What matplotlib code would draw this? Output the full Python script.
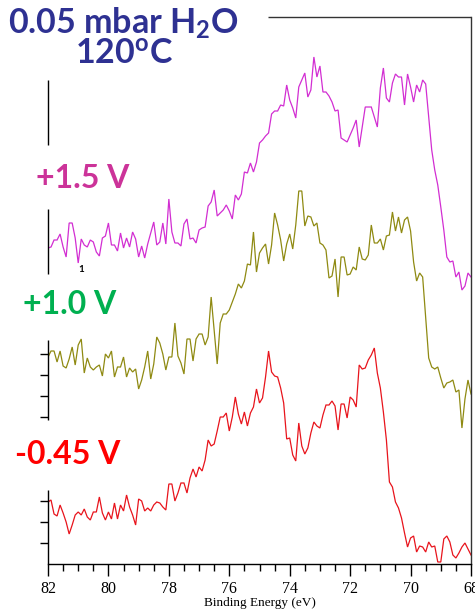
import numpy as np
import matplotlib
matplotlib.use("Agg")
import matplotlib.pyplot as plt

plt.rcParams["mathtext.fontset"] = "custom"
plt.rcParams["mathtext.rm"] = "Lato:bold"
plt.rcParams["mathtext.bf"] = "Lato:bold"
plt.rcParams["mathtext.it"] = "Lato:bold"

# Binding energy grid (eV), 0.1 eV steps from 82 down to 68
energy = np.round(np.linspace(82.0, 68.0, 141), 2)

# Offset intensities (arb. units) for each applied potential
counts_p15 = [
    316, 317, 324, 324, 330, 317, 307, 341, 341, 326,
    301, 325, 319, 317, 324, 322, 312, 308, 326, 328,
    341, 319, 319, 313, 331, 316, 326, 317, 332, 325,
    307, 318, 306, 320, 331, 342, 319, 322, 341, 320,
    365, 332, 321, 321, 318, 340, 345, 325, 326, 321,
    334, 336, 337, 358, 362, 374, 348, 351, 354, 359,
    353, 345, 369, 364, 370, 392, 391, 401, 392, 402,
    421, 424, 428, 431, 450, 453, 453, 459, 458, 479,
    464, 456, 446, 477, 484, 491, 467, 474, 507, 487,
    498, 472, 472, 468, 462, 453, 454, 426, 424, 422,
    429, 436, 444, 417, 437, 457, 457, 457, 447, 437,
    476, 496, 466, 462, 481, 490, 487, 487, 459, 490,
    477, 462, 479, 472, 484, 480, 447, 414, 394, 379,
    357, 334, 307, 302, 303, 287, 292, 274, 278, 291,
    287,
]
counts_p10 = [
    207, 213, 213, 202, 213, 198, 196, 205, 217, 199,
    219, 225, 191, 206, 197, 194, 197, 199, 188, 210,
    206, 213, 187, 197, 197, 207, 187, 196, 192, 195,
    175, 184, 197, 213, 185, 200, 227, 221, 210, 194,
    207, 207, 241, 208, 201, 190, 225, 225, 203, 225,
    230, 230, 219, 227, 267, 234, 200, 241, 250, 250,
    254, 262, 270, 280, 276, 283, 300, 299, 332, 292,
    311, 316, 320, 300, 319, 351, 339, 324, 303, 320,
    330, 315, 339, 373, 373, 338, 348, 347, 338, 341,
    321, 319, 314, 286, 288, 305, 267, 307, 307, 289,
    290, 297, 294, 317, 305, 304, 309, 339, 321, 321,
    325, 314, 328, 329, 352, 333, 347, 331, 344, 347,
    333, 302, 283, 291, 287, 247, 206, 197, 195, 197,
    186, 176, 181, 182, 184, 172, 174, 136, 165, 184,
    170,
]
counts_m045 = [
    62, 64, 50, 48, 59, 51, 42, 30, 39, 49,
    52, 49, 55, 47, 44, 52, 52, 67, 51, 44,
    52, 45, 61, 45, 59, 53, 69, 57, 49, 39,
    65, 63, 53, 56, 53, 59, 62, 61, 57, 54,
    80, 80, 63, 71, 81, 81, 71, 86, 95, 87,
    97, 93, 104, 124, 118, 120, 133, 147, 147, 151,
    133, 147, 167, 150, 140, 152, 138, 151, 157, 175,
    161, 166, 187, 213, 192, 188, 187, 176, 161, 125,
    126, 109, 103, 141, 118, 110, 116, 131, 142, 138,
    136, 149, 159, 159, 163, 158, 134, 160, 160, 146,
    167, 164, 157, 199, 195, 196, 204, 209, 216, 191,
    176, 152, 124, 82, 77, 62, 56, 46, 31, 17,
    26, 28, 12, 18, 17, 12, 22, 17, 18, 2,
    2, 25, 28, 22, 9, 6, 11, 17, 21, 15,
    9,
]

labels = ["+1.5 V", "+1.0 V", "-0.45 V"]
line_colors = ["#D22ED2", "#8F8A12", "#E8141C"]
label_colors = ["#CC3399", "#00B050", "#FF0000"]

x_major = [82, 80, 78, 76, 74, 72, 70, 68]
y_ticks = [21, 42, 63, 147, 168, 189, 210]

fig = plt.figure(figsize=(4.75, 6.13), dpi=100)
ax = fig.add_axes([48 / 475, 49 / 613, 423 / 475, 547 / 613])

for vals, c in zip([counts_p15, counts_p10, counts_m045], line_colors):
    ax.plot(energy, vals, color=c, lw=0.9, solid_joinstyle="miter")

ax.set_xlim(82, 68)
ax.set_ylim(0, 547)

# frame: partial left and top spines (label panels sit over the gaps)
ax.spines["left"].set_visible(False)
ax.spines["top"].set_visible(False)
for s in ["bottom", "right"]:
    ax.spines[s].set_linewidth(1.0)
    ax.spines[s].set_color("black")
ax.spines["right"].set_color("#333333")
left_segments = [(0, 74), (144, 224), (290, 355), (419, 484)]
for y0, y1 in left_segments:
    ax.plot([0, 0], [y0, y1], transform=ax.get_yaxis_transform(),
            color="black", lw=1.0, clip_on=False, solid_capstyle="butt")
ax.plot([74.72, 68], [1, 1], transform=ax.get_xaxis_transform(),
        color="#333333", lw=1.0, clip_on=False, solid_capstyle="butt")

ax.set_xticks(x_major)
ax.set_xticklabels([str(v) for v in x_major], family="Liberation Serif", fontsize=11.5)
ax.set_xticks(np.arange(68, 82.01, 0.5), minor=True)
ax.tick_params(axis="x", which="major", direction="out", length=8.5, width=1.0, pad=3.5)
ax.tick_params(axis="x", which="minor", direction="out", length=5, width=1.0)
ax.set_yticks(y_ticks)
ax.set_yticklabels([])
ax.tick_params(axis="y", which="major", direction="out", length=5.5, width=1.0, left=True)
ax.set_xlabel("Binding Energy (eV)", family="Liberation Serif", fontsize=9.5, labelpad=0)

# white panel under the left end of the tick labels
fig.patches.append(plt.Rectangle((0, 0), 41 / 475, 40 / 613, transform=fig.transFigure,
                                 facecolor="white", edgecolor="none", zorder=5))

# title block
title_color = "#2E3192"
fig.text(123 / 475, 1 - 34 / 613, r"0.05 mbar H$_\mathbf{2}$O", ha="center", va="baseline",
         family="Lato", weight="bold", fontsize=24.5, color=title_color)
fig.text(124 / 475, 1 - 65 / 613, r"120$^\mathbf{o}$C", ha="center", va="baseline",
         family="Lato", weight="bold", fontsize=24.5, color=title_color)

# potential labels
label_pos = [(83, 178), (70, 305), (68, 455)]
for txt, c, (px, py) in zip(labels, label_colors, label_pos):
    fig.text(px / 475, 1 - py / 613, txt, ha="center", va="center",
             family="Lato", weight="bold", fontsize=23, color=c)

fig.text(81 / 475, 1 - 270 / 613, "1", ha="center", va="center",
         family="Lato", weight="bold", fontsize=7, color="black")

fig.savefig("out.png", dpi=100)
